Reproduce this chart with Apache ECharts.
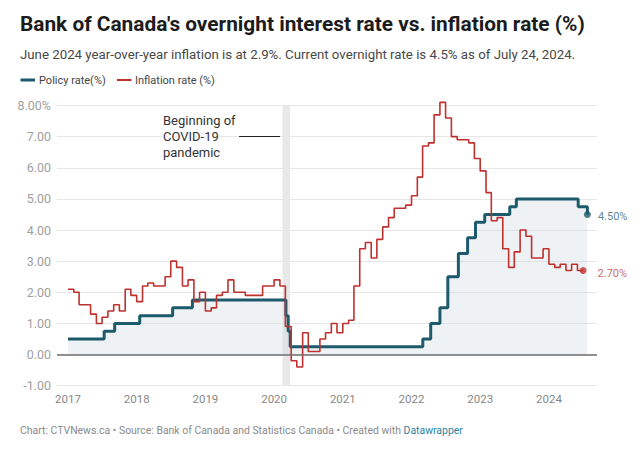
<!DOCTYPE html>
<html>
<head>
<meta charset="utf-8">
<script src="https://cdn.jsdelivr.net/npm/echarts@6/dist/echarts.min.js"></script>
<style>
html,body{margin:0;padding:0;background:#fff;}
#chart{width:640px;height:449px;}
</style>
</head>
<body>
<div id="chart"></div>
<script>
// ---------- DATA ----------
const yearTicks = [2017, 2018, 2019, 2020, 2021, 2022, 2023, 2024];
const inflationStart = '2017-01';
const inflation2017 = [2.1, 2.0, 1.6, 1.6, 1.3, 1.0, 1.2, 1.4, 1.6, 1.4, 2.1, 1.9];
const inflation2018 = [1.7, 2.2, 2.3, 2.2, 2.2, 2.5, 3.0, 2.8, 2.2, 2.4, 1.7, 2.0];
const inflation2019 = [1.4, 1.5, 1.9, 2.0, 2.4, 2.0, 2.0, 1.9, 1.9, 1.9, 2.2, 2.2];
const inflation2020 = [2.4, 2.2, 0.9, -0.2, -0.4, 0.7, 0.1, 0.1, 0.5, 0.7, 1.0, 0.7];
const inflation2021 = [1.0, 1.1, 2.2, 3.4, 3.6, 3.1, 3.7, 4.1, 4.4, 4.7, 4.7, 4.8];
const inflation2022 = [5.1, 5.7, 6.7, 6.8, 7.7, 8.1, 7.6, 7.0, 6.9, 6.9, 6.8, 6.3];
const inflation2023 = [5.9, 5.2, 4.3, 4.4, 3.4, 2.8, 3.3, 4.0, 3.8, 3.1, 3.1, 3.4];
const inflation2024 = [2.9, 2.8, 2.9, 2.7, 2.9, 2.7];

const policyDates = ['2017-01-01','2017-07-12','2017-09-06','2018-01-17','2018-07-11','2018-10-24',
  '2020-03-04','2020-03-16','2020-03-27','2022-03-02','2022-04-13','2022-06-01','2022-07-13',
  '2022-09-07','2022-10-26','2022-12-07','2023-01-25','2023-06-07','2023-07-12','2024-06-05','2024-07-24'];
const policyRates = [0.5, 0.75, 1.0, 1.25, 1.5, 1.75,
  1.25, 0.75, 0.25, 0.5, 1.0, 1.5, 2.5,
  3.25, 3.75, 4.25, 4.5, 4.75, 5.0, 4.75, 4.5];

const covidStart = '2020-02-15';
const covidEnd = '2020-03-26';
const policyEndLabel = '4.50%';
const inflationEndLabel = '2.70%';

// ---------- HELPERS ----------
function dec(s) {
  const p = s.split('-').map(Number);
  const y = p[0], m = p[1], d = p[2] || 1;
  const t0 = Date.UTC(y, 0, 1), t1 = Date.UTC(y + 1, 0, 1);
  return y + (Date.UTC(y, m - 1, d) - t0) / (t1 - t0);
}
const inflationValues = [].concat(inflation2017, inflation2018, inflation2019, inflation2020,
  inflation2021, inflation2022, inflation2023, inflation2024);
const sY = Number(inflationStart.split('-')[0]);
const inflationData = inflationValues.map((v, i) => {
  const y = sY + Math.floor(i / 12), m = (i % 12) + 1;
  return [dec(y + '-' + String(m).padStart(2, '0') + '-01'), v];
});
// close the last monthly step at the end of its month
const lastI = inflationValues.length;
const endY = sY + Math.floor(lastI / 12), endM = (lastI % 12) + 1;
const inflationEndX = dec(endY + '-' + String(endM).padStart(2, '0') + '-01');
inflationData.push([inflationEndX, inflationValues[lastI - 1]]);

const policyData = policyDates.map((d, i) => [dec(d), policyRates[i]]);
const policyEnd = policyData[policyData.length - 1];

const TEAL = '#1d5b6c';
const RED = '#bf312e';
const FONT = 'Roboto';

// fit text width helper
const cv = document.createElement('canvas').getContext('2d');
function fitSize(text, weight, base, target) {
  cv.font = weight + ' ' + base + 'px ' + FONT;
  const w = cv.measureText(text).width;
  return +(base * target / w).toFixed(2);
}
const titleText = "Bank of Canada's overnight interest rate vs. inflation rate (%)";
const subText = 'June 2024 year-over-year inflation is at 2.9%. Current overnight rate is 4.5% as of July 24, 2024.';
const footA = 'Chart: CTVNews.ca \u2022 Source: Bank of Canada and Statistics Canada \u2022 Created with ';
const footB = 'Datawrapper';
const titleSize = fitSize(titleText, 'bold', 20, 565);
const subSize = fitSize(subText, 'normal', 13, 555);
const footSize = fitSize(footA + footB, 'normal', 11, 443);

const chart = echarts.init(document.getElementById('chart'), null, { renderer: 'svg' });
chart.setOption({
  animation: false,
  backgroundColor: '#fff',
  grid: { left: 57, right: 43, top: 105.5, bottom: 63.3, containLabel: false },
  xAxis: {
    type: 'value', min: 2016.84, max: 2024.70,
    splitLine: { show: false }, axisLine: { show: false }, axisTick: { show: false },
    axisLabel: {
      customValues: yearTicks, formatter: v => String(Math.round(v)),
      color: '#888', fontFamily: FONT, fontSize: 11.5, margin: 7
    }
  },
  yAxis: {
    type: 'value', min: -1, max: 8, interval: 1,
    axisLine: { show: false }, axisTick: { show: false },
    splitLine: { lineStyle: { color: '#e6e6e6', width: 1 } },
    axisLabel: {
      formatter: v => v === 8 ? '8.00%' : v.toFixed(2),
      color: '#a0a0a0', fontFamily: FONT, fontSize: 12.5, margin: 6
    }
  },
  series: [
    {
      name: 'Policy rate(%)', type: 'line', step: 'end', data: policyData,
      symbol: 'none', z: 2, clip: false,
      lineStyle: { color: TEAL, width: 3 },
      itemStyle: { color: TEAL },
      areaStyle: { color: 'rgba(200,212,224,0.45)', origin: 0 },
      markLine: {
        silent: true, symbol: 'none', label: { show: false },
        data: [
          { yAxis: 0, lineStyle: { color: '#6e6e6e', width: 1.5, type: 'solid' } },
          [{ coord: [2019.49, 7], lineStyle: { color: '#222', width: 1, type: 'solid' } }, { coord: [2020.085, 7] }]
        ]
      }
    },
    {
      name: 'Inflation rate (%)', type: 'line', step: 'end', data: inflationData,
      symbol: 'none', z: 3, clip: false,
      lineStyle: { color: RED, width: 1.6 },
      itemStyle: { color: RED },
      markArea: {
        silent: true,
        itemStyle: { color: '#e8e8e8' },
        data: [[{ xAxis: dec(covidStart) }, { xAxis: dec(covidEnd) }]]
      }
    },
    {
      type: 'scatter', z: 5, symbolSize: 7,
      data: [
        { value: policyEnd, itemStyle: { color: TEAL },
          label: { show: true, formatter: policyEndLabel, position: 'right', distance: 7, offset: [0, 2.5], color: '#2f6877' } },
        { value: [inflationEndX, inflationValues[lastI - 1]], itemStyle: { color: RED },
          label: { show: true, formatter: inflationEndLabel, position: 'right', distance: 11, offset: [0, 2.5], color: '#c0403c' } }
      ],
      label: { fontFamily: FONT, fontSize: 11 }
    }
  ],
  graphic: [
    { type: 'text', x: 20, y: 24, style: { text: titleText, font: 'bold ' + titleSize + 'px ' + FONT, fill: '#1c1c1c', verticalAlign: 'middle' } },
    { type: 'text', x: 20, y: 54, style: { text: subText, font: subSize + 'px ' + FONT, fill: '#484848', verticalAlign: 'middle' } },
    { type: 'rect', shape: { x: 20.5, y: 78.5, width: 14.5, height: 3 }, style: { fill: TEAL } },
    { type: 'text', x: 39, y: 80, style: { text: 'Policy rate(%)', font: '11px ' + FONT, fill: '#444', verticalAlign: 'middle' } },
    { type: 'rect', shape: { x: 117, y: 79, width: 14.5, height: 2 }, style: { fill: RED } },
    { type: 'text', x: 135, y: 80, style: { text: 'Inflation rate (%)', font: '11px ' + FONT, fill: '#444', verticalAlign: 'middle' } },
    { type: 'text', x: 163, y: 136.5, z: 10, style: { text: 'Beginning of\nCOVID-19\npandemic', font: '13px ' + FONT, fill: '#333', stroke: '#fff', lineWidth: 3, lineHeight: 15.7, verticalAlign: 'middle' } },
    { type: 'text', x: 20, y: 430, style: {
        text: '{a|' + footA + '}{b|' + footB + '}',
        rich: {
          a: { font: footSize + 'px ' + FONT, fill: '#8a8a8a' },
          b: { font: footSize + 'px ' + FONT, fill: '#2b84a3' }
        },
        verticalAlign: 'middle' } }
  ]
});
</script>
</body>
</html>
